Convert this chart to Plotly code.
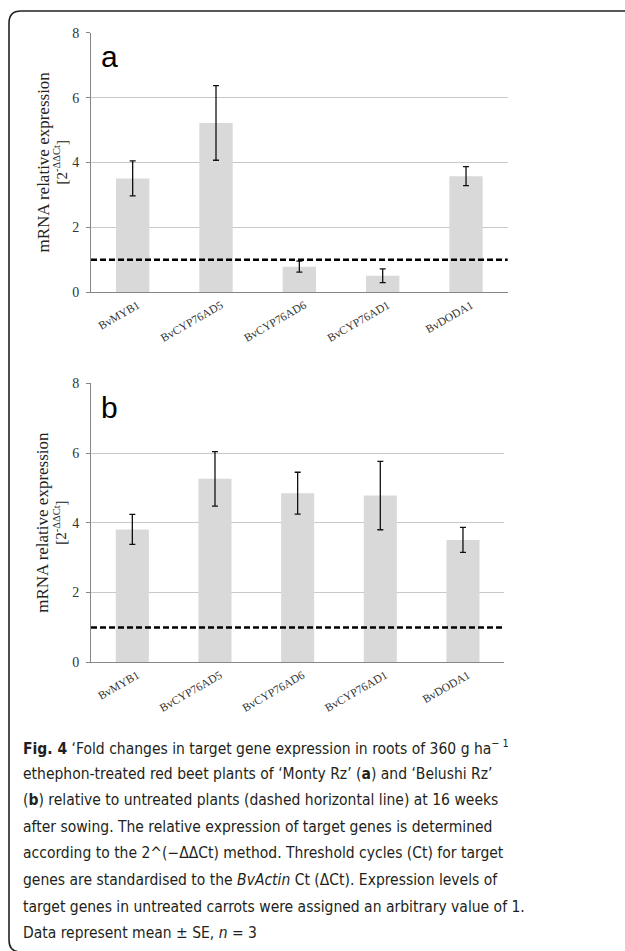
import plotly.graph_objects as go

genes = ["BvMYB1", "BvCYP76AD5", "BvCYP76AD6", "BvCYP76AD1", "BvDODA1"]
mean_a = [3.51, 5.22, 0.79, 0.51, 3.58]
se_a = [0.54, 1.15, 0.17, 0.21, 0.29]
mean_b = [3.81, 5.26, 4.85, 4.78, 3.51]
se_b = [0.43, 0.78, 0.60, 0.98, 0.36]
control_level = 1
y_ticks = [0, 2, 4, 6, 8]
caption_lines = [
    "<b>Fig. 4</b> ‘Fold changes in target gene expression in roots of 360 g ha<sup>− 1</sup>",
    "ethephon-treated red beet plants of ‘Monty Rz’ (<b>a</b>) and ‘Belushi Rz’",
    "(<b>b</b>) relative to untreated plants (dashed horizontal line) at 16 weeks",
    "after sowing. The relative expression of target genes is determined",
    "according to the 2^(−ΔΔCt) method. Threshold cycles (Ct) for target",
    "genes are standardised to the <i>BvActin</i> Ct (ΔCt). Expression levels of",
    "target genes in untreated carrots were assigned an arbitrary value of 1.",
    "Data represent mean ± SE, <i>n</i> = 3",
]

W, H = 625, 951
def px(x):
    return x / W
def py(y):
    return 1 - y / H

SERIF = "Liberation Serif, Times New Roman, serif"
CAP = "DejaVu Sans Condensed, Liberation Sans Narrow, sans-serif"
AXC = "#868686"
TXT = "#333333"

fig = go.Figure()
for i, (m, s) in enumerate([(mean_a, se_a), (mean_b, se_b)]):
    sfx = "" if i == 0 else str(i + 1)
    fig.add_trace(go.Bar(
        x=genes, y=m, xaxis="x" + sfx, yaxis="y" + sfx,
        marker=dict(color="#d9d9d9", line=dict(width=0)),
        width=0.4,
        error_y=dict(type="data", array=s, color="#111111", thickness=1.3, width=3),
        showlegend=False,
    ))

panels = [
    dict(x0=91, x1=507.7, ytop=32.7, ybot=292.3, label="a"),
    dict(x0=91, x1=504.3, ytop=383.3, ybot=662.3, label="b"),
]

layout = dict(
    width=W, height=H,
    margin=dict(l=0, r=0, t=0, b=0, pad=0, autoexpand=False),
    plot_bgcolor="white", paper_bgcolor="white",
    showlegend=False,
    shapes=[], annotations=[],
)
for i, p in enumerate(panels):
    sfx = "" if i == 0 else str(i + 1)
    layout["xaxis" + sfx] = dict(
        domain=[px(p["x0"]), px(p["x1"])], anchor="y" + sfx,
        showline=True, linecolor=AXC, linewidth=1,
        showgrid=False, ticks="", tickangle=-30,
        tickfont=dict(family=SERIF, size=11.5, color=TXT),
        ticklabelshift=5, ticklabelstandoff=1,
        range=[-0.5, 4.5], fixedrange=True, automargin=False,
    )
    layout["yaxis" + sfx] = dict(
        domain=[py(p["ybot"]), py(p["ytop"])], anchor="x" + sfx,
        range=[0, 8], tickvals=y_ticks,
        showline=True, linecolor=AXC, linewidth=1,
        showgrid=True, gridcolor="#c8c8c8", gridwidth=1,
        zeroline=False,
        ticks="outside", ticklen=4, tickcolor=AXC,
        ticklabelstandoff=4,
        tickfont=dict(family=SERIF, size=14, color=TXT),
        fixedrange=True, automargin=False,
    )
    layout["shapes"].append(dict(
        type="line", xref=("x" + sfx) + " domain", yref="y" + sfx,
        x0=0, x1=1, y0=control_level, y1=control_level,
        line=dict(color="black", width=2.5, dash="6px,3px"), layer="above",
    ))
    layout["annotations"].append(dict(
        text=p["label"], xref="paper", yref="paper",
        x=px(109), y=py(p["ytop"] + 24), xanchor="center", yanchor="middle",
        showarrow=False, font=dict(family="Liberation Sans, Arial, sans-serif", size=30, color="black"),
    ))
    yc = (p["ytop"] + p["ybot"]) / 2
    layout["annotations"].append(dict(
        text="mRNA relative expression", xref="paper", yref="paper",
        x=px(43), y=py(yc), xanchor="center", yanchor="middle", textangle=-90,
        showarrow=False, font=dict(family=SERIF, size=17, color="#222222"),
    ))
    layout["annotations"].append(dict(
        text="[2<sup>-ΔΔCt</sup>]", xref="paper", yref="paper",
        x=px(60), y=py(yc), xanchor="center", yanchor="middle", textangle=-90,
        showarrow=False, font=dict(family=SERIF, size=15, color="#222222"),
    ))

cap_y0 = 747
for k, line in enumerate(caption_lines):
    layout["annotations"].append(dict(
        text=line, xref="paper", yref="paper",
        x=px(21), y=py(cap_y0 + k * 26.6), xanchor="left", yanchor="middle",
        showarrow=False, font=dict(family=CAP, size=15.5, color="#231f20"),
    ))

# rounded frame (left, top, bottom edges; right side extends off the page)
r = 12
L, T, R, B = 9, 11, 640, 952
path = (f"M {px(R)} {py(T)} L {px(L + r)} {py(T)} Q {px(L)} {py(T)} {px(L)} {py(T + r)} "
        f"L {px(L)} {py(B - r)} Q {px(L)} {py(B)} {px(L + r)} {py(B)} L {px(R)} {py(B)}")
layout["shapes"].append(dict(type="path", xref="paper", yref="paper", path=path,
                             line=dict(color="#222222", width=1.6)))

fig.update_layout(**layout)
fig.write_html(
    "out.html",
    config={"displayModeBar": False, "responsive": False},
    post_script=(
        "document.documentElement.style.margin='0';"
        "document.documentElement.style.overflow='hidden';"
        "document.body.style.margin='0';document.body.style.overflow='hidden';"
        "var d=document.getElementById('{plot_id}');"
        "d.style.position='absolute';d.style.top='0px';d.style.left='0px';"
    ),
)
